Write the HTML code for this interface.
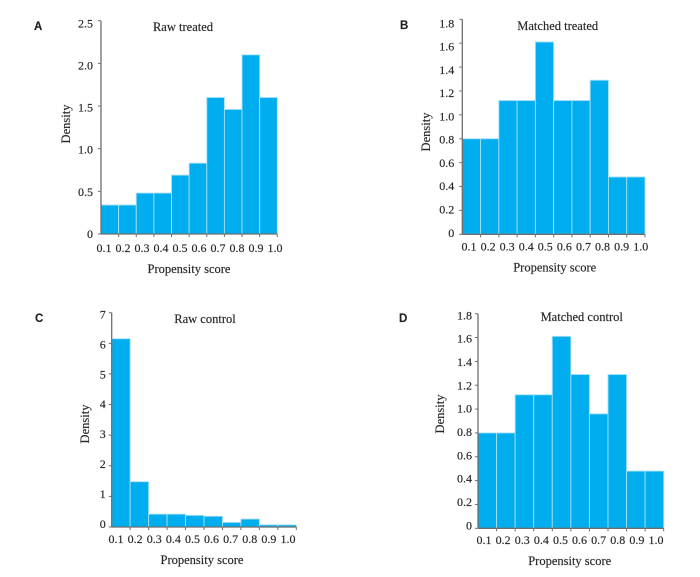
<!DOCTYPE html>
<html lang="en">
<head>
<meta charset="utf-8">
<title>Propensity score histograms</title>
<style>
html,body{margin:0;padding:0;background:#fff;}
svg{display:block;filter:blur(.3px);}
text{font-family:"Liberation Serif",serif;font-size:12px;fill:#262626;stroke:#262626;stroke-width:.15px;}
.letter{font-family:"Liberation Sans",sans-serif;font-weight:bold;font-size:11.5px;fill:#222;}
.axis-title{font-size:12.5px;}
</style>
</head>
<body>
<svg id="chart" width="700" height="577" viewBox="0 0 700 577" xmlns="http://www.w3.org/2000/svg"></svg>
<script>
var categories = ['0.1','0.2','0.3','0.4','0.5','0.6','0.7','0.8','0.9','1.0'];
var rawTreated = [0.34,0.34,0.48,0.48,0.69,0.83,1.6,1.46,2.1,1.6];
var matchedTreated = [0.8,0.8,1.12,1.12,1.61,1.12,1.12,1.29,0.48,0.48];
var rawControl = [6.15,1.48,0.42,0.42,0.38,0.35,0.15,0.26,0.07,0.07];
var matchedControl = [0.8,0.8,1.12,1.12,1.61,1.29,0.96,1.29,0.48,0.48];
var ticksA = ['0','0.5','1.0','1.5','2.0','2.5'];
var ticksB = ['0','0.2','0.4','0.6','0.8','1.0','1.2','1.4','1.6','1.8'];
var ticksC = ['0','1','2','3','4','5','6','7'];
var ticksD = ['0','0.2','0.4','0.6','0.8','1.0','1.2','1.4','1.6','1.8'];

var NS = 'http://www.w3.org/2000/svg';
var root = document.getElementById('chart');

function mk(parent, tag, attrs, txt) {
  var el = document.createElementNS(NS, tag);
  for (var k in attrs) el.setAttribute(k, attrs[k]);
  if (txt !== undefined) el.textContent = txt;
  parent.appendChild(el);
  return el;
}

function drawPanel(name, values, ticks, g) {
  var panel = mk(root, 'g', {});
  
  
  var yMax = parseFloat(ticks[ticks.length - 1]);
  function xs(i) { return g.x0 + (g.x1 - g.x0) * i / categories.length; }
  function ys(v) { return g.y0 - (g.y0 - g.y1) * v / yMax; }
  function labelX(i) { return g.lx0 + (g.lx1 - g.lx0) * i / (categories.length - 1); }

  values.forEach(function (v, i) {
    var bar = mk(panel, 'rect', {x: xs(i), y: ys(v), width: xs(i + 1) - xs(i), height: g.y0 - ys(v), fill: '#00aeef', stroke: '#a5e0f6', 'stroke-width': 0.9});
    
    
  });

  var yAxis = mk(panel, 'line', {x1: g.x0, x2: g.x0, y1: g.y1, y2: g.y0, stroke: '#6e6e6e', 'stroke-width': 1.3});
  
  
  var xAxis = mk(panel, 'line', {x1: g.x0, x2: g.x1, y1: g.y0, y2: g.y0, stroke: '#6e6e6e', 'stroke-width': 1.3});
  
  

  ticks.forEach(function (t, i) {
    var v = parseFloat(t);
    var mark = mk(panel, 'line', {x1: g.x0 - 3, x2: g.x0, y1: ys(v), y2: ys(v), stroke: '#6e6e6e', 'stroke-width': 1});
    
    
    var dy = g.d0 + (g.d1 - g.d0) * v / yMax;
    var lab = mk(panel, 'text', {x: g.x0 - g.gap, y: ys(v) + dy, 'text-anchor': 'end'}, t);
    
    
  });

  categories.forEach(function (c, i) {
    var tx = xs(i + 1);
    var mark = mk(panel, 'line', {x1: tx, x2: tx, y1: g.y0, y2: g.y0 + 3, stroke: '#6e6e6e', 'stroke-width': 1});
    
    
    var lab = mk(panel, 'text', {x: labelX(i), y: g.ly, 'text-anchor': 'middle'}, c);
    
    
  });

  var title = mk(panel, 'text', {x: g.tx, y: g.ty, 'text-anchor': 'middle'}, g.title);
  title.setAttribute('class', 'axis-title');
  
  

  var xTitle = mk(panel, 'text', {x: g.xtx, y: g.xty, 'text-anchor': 'middle'}, 'Propensity score');
  xTitle.setAttribute('class', 'axis-title');
  
  

  var yTitle = mk(panel, 'text', {x: 0, y: 0, 'text-anchor': 'middle', transform: 'translate(' + g.ytx + ' ' + g.yty + ') rotate(-90)'}, 'Density');
  yTitle.setAttribute('class', 'axis-title');
  
  

  var letter = mk(panel, 'text', {x: g.px, y: g.py}, name);
  letter.setAttribute('class', 'letter');
  
  
}

drawPanel('A', rawTreated, ticksA, {x0: 101, x1: 277.3, y0: 234, y1: 20.7, lx0: 104, lx1: 275, ly: 252, gap: 8, d0: 4, d1: 6.6, title: 'Raw treated', tx: 183, ty: 31, xtx: 189, xty: 273, ytx: 70, yty: 124, px: 34, py: 30});
drawPanel('B', matchedTreated, ticksB, {x0: 462.3, x1: 645, y0: 234.3, y1: 19.3, lx0: 469, lx1: 640.7, ly: 250.6, gap: 8, d0: 2.5, d1: 8, title: 'Matched treated', tx: 557.7, ty: 30, xtx: 554.7, xty: 271.6, ytx: 430, yty: 132, px: 400, py: 29});
drawPanel('C', rawControl, ticksC, {x0: 111.7, x1: 296.3, y0: 527, y1: 312.7, lx0: 116, lx1: 288, ly: 543, gap: 6, d0: 1, d1: 5.7, title: 'Raw control', tx: 205, ty: 323, xtx: 202, xty: 564, ytx: 89, yty: 424, px: 35, py: 322});
drawPanel('D', matchedControl, ticksD, {x0: 478, x1: 663.7, y0: 528.3, y1: 313.7, lx0: 484, lx1: 656, ly: 544, gap: 6, d0: 1, d1: 5.7, title: 'Matched control', tx: 581.7, ty: 321, xtx: 569.7, xty: 565, ytx: 444, yty: 414, px: 399, py: 322});
</script>
</body>
</html>
